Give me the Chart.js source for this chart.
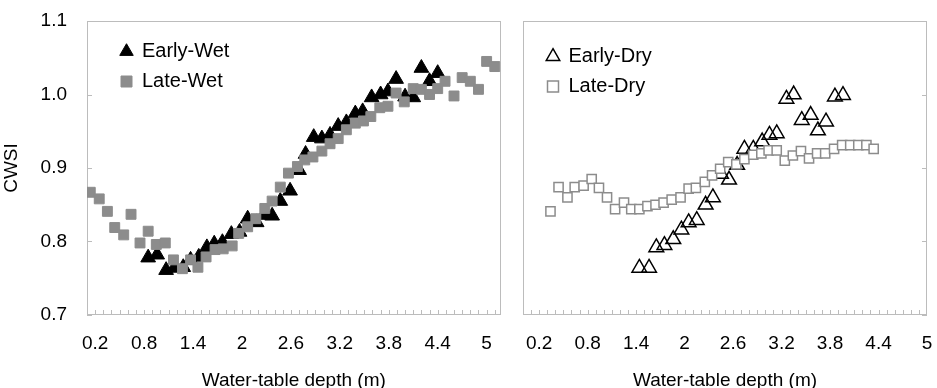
<!DOCTYPE html>
<html>
<head>
<meta charset="utf-8">
<script src="https://cdn.jsdelivr.net/npm/chart.js@4"></script>
<style>
  body { margin: 0; background: #fff; }
  #wrap { position: relative; width: 937px; height: 388px; overflow: hidden; }
  #wet { position: absolute; left: 0; top: 0; }
  #dry { position: absolute; left: 510px; top: 0; }
</style>
</head>
<body>
<div id="wrap">
  <canvas id="wet" width="510" height="388"></canvas>
  <canvas id="dry" width="427" height="388"></canvas>
</div>
<script>
// tick labels (both panels)
var xTicks = [0.2, 0.8, 1.4, 2, 2.6, 3.2, 3.8, 4.4, 5];
var yTicks = [0.7, 0.8, 0.9, 1.0, 1.1];

// wet season
var earlyWetX = [0.85, 0.96, 1.07, 1.17, 1.28, 1.37, 1.47, 1.57, 1.66, 1.76, 1.87, 1.97, 2.07, 2.18, 2.27, 2.37, 2.47, 2.59,
  2.70, 2.78, 2.88, 2.98, 3.08, 3.18, 3.28, 3.39, 3.48, 3.59, 3.70, 3.79, 3.89, 4.00, 4.10, 4.20, 4.30, 4.40];
var earlyWetY = [0.778, 0.782, 0.761, 0.764, 0.765, 0.775, 0.779, 0.792, 0.797, 0.799, 0.810, 0.813, 0.831, 0.826, 0.836, 0.835, 0.855, 0.869,
  0.897, 0.919, 0.942, 0.940, 0.945, 0.957, 0.962, 0.974, 0.977, 0.996, 1.000, 1.004, 1.021, 0.997, 0.996, 1.036, 1.018, 1.029];

var lateWetX = [0.14, 0.25, 0.35, 0.44, 0.55, 0.64, 0.75, 0.85, 0.95, 1.06, 1.16, 1.27, 1.37, 1.46, 1.56, 1.67, 1.77, 1.88, 1.96, 2.07,
  2.17, 2.28, 2.37, 2.47, 2.57, 2.68, 2.77, 2.87, 2.98, 3.08, 3.18, 3.28, 3.39, 3.49, 3.58, 3.69, 3.79, 3.89, 3.99, 4.10,
  4.20, 4.30, 4.40, 4.49, 4.60, 4.70, 4.80, 4.90, 5.00, 5.10];
var lateWetY = [0.867, 0.858, 0.841, 0.819, 0.809, 0.837, 0.798, 0.814, 0.796, 0.798, 0.775, 0.763, 0.775, 0.765, 0.779, 0.789, 0.790, 0.794, 0.811, 0.820,
  0.831, 0.845, 0.855, 0.874, 0.893, 0.902, 0.911, 0.915, 0.923, 0.933, 0.940, 0.952, 0.961, 0.964, 0.970, 0.982, 0.984, 1.002, 0.990, 1.008,
  1.007, 1.000, 1.008, 1.018, 0.998, 1.023, 1.018, 1.007, 1.045, 1.038];

// dry season
var earlyDryX = [1.44, 1.56, 1.65, 1.75, 1.86, 1.96, 2.05, 2.15, 2.26, 2.35, 2.45, 2.55, 2.65, 2.74, 2.85, 2.96, 3.05, 3.14, 3.26, 3.35,
  3.45, 3.56, 3.65, 3.75, 3.86, 3.96];
var earlyDryY = [0.764, 0.764, 0.792, 0.795, 0.803, 0.816, 0.826, 0.829, 0.850, 0.860, 0.892, 0.884, 0.904, 0.926, 0.926, 0.936, 0.945, 0.947, 0.994, 1.000,
  0.965, 0.972, 0.951, 0.963, 0.997, 0.999];

var lateDryX = [0.34, 0.44, 0.55, 0.64, 0.75, 0.85, 0.94, 1.04, 1.14, 1.25, 1.34, 1.44, 1.54, 1.64, 1.74, 1.84, 1.95, 2.05, 2.14, 2.25,
  2.34, 2.44, 2.54, 2.64, 2.74, 2.85, 2.95, 3.04, 3.14, 3.24, 3.34, 3.44, 3.54, 3.64, 3.74, 3.85, 3.95, 4.05, 4.15, 4.25, 4.34];
var lateDryY = [0.841, 0.874, 0.860, 0.874, 0.876, 0.885, 0.873, 0.860, 0.844, 0.853, 0.844, 0.844, 0.848, 0.850, 0.853, 0.857, 0.860, 0.872, 0.873, 0.881,
  0.890, 0.899, 0.908, 0.905, 0.912, 0.918, 0.920, 0.924, 0.924, 0.910, 0.917, 0.923, 0.913, 0.920, 0.920, 0.926, 0.931, 0.931, 0.931, 0.931, 0.926];

Chart.defaults.font.family = '"Liberation Sans", Arial, sans-serif';
Chart.defaults.font.size = 19;
Chart.defaults.color = '#000';

function pts(xs, ys) {
  return xs.map(function (x, i) { return {x: x, y: ys[i]}; });
}

function tenths(from, to) {
  var out = [];
  for (var i = from; i <= to; i++) out.push(i / 10);
  return out;
}

// grey frame + small inside tick marks like the Excel original
var frame = {
  id: 'frame',
  beforeDatasetsDraw: function (chart, args, opts) {
    var a = chart.chartArea, ctx = chart.ctx;
    var sx = chart.scales.x, sy = chart.scales.y;
    ctx.save();
    ctx.lineWidth = 1;
    ctx.strokeStyle = '#bcbcbc';
    ctx.strokeRect(Math.round(a.left) + 0.5, Math.round(a.top) + 0.5,
      Math.round(a.right - a.left) - 1, Math.round(a.bottom - a.top) - 1);
    ctx.beginPath();
    opts.minor.forEach(function (v) {
      var px = Math.round(sx.getPixelForValue(v)) + 0.5;
      ctx.moveTo(px, a.bottom);
      ctx.lineTo(px, a.bottom - 5);
    });
    yTicks.forEach(function (v) {
      var py = Math.round(sy.getPixelForValue(v)) + 0.5;
      if (opts.side === 'left') { ctx.moveTo(a.left, py); ctx.lineTo(a.left + 5, py); }
      else { ctx.moveTo(a.right, py); ctx.lineTo(a.right - 5, py); }
    });
    ctx.stroke();
    ctx.restore();
  }
};

// move the legend into the top-left corner of the plot
var legendInside = {
  id: 'legendInside',
  afterLayout: function (chart, args, opts) {
    var lg = chart.legend, a = chart.chartArea;
    lg.left = a.left + opts.dx;
    lg.top = a.top + opts.dy;
    lg.right = a.right;
    lg.bottom = a.bottom;
  }
};

function xScale(min, max) {
  return {
    type: 'linear', min: min, max: max,
    afterBuildTicks: function (s) { s.ticks = xTicks.map(function (v) { return {value: v}; }); },
    afterFit: function (s) { s.height = 73; s.paddingLeft = 0; s.paddingRight = 0; },
    grid: {display: false, drawTicks: false},
    border: {display: false},
    ticks: {autoSkip: false, maxRotation: 0, padding: 17, callback: function (v) { return String(v); }},
    title: {display: true, text: 'Water-table depth (m)', padding: {top: 0, bottom: -4}}
  };
}

function legendOpts() {
  return {
    position: 'chartArea', align: 'start',
    labels: {
      usePointStyle: true, boxWidth: 11, boxHeight: 11, padding: 10, color: '#000', font: {size: 20},
      sort: function (a, b) { return a.datasetIndex - b.datasetIndex; }
    }
  };
}

new Chart(document.getElementById('wet'), {
  type: 'scatter',
  data: {
    datasets: [
      {label: 'Early-Wet', data: pts(earlyWetX, earlyWetY), pointStyle: 'triangle', pointRadius: 8.5, pointHoverRadius: 8.5,
        backgroundColor: '#000', borderColor: '#000', borderWidth: 1, order: 1},
      {label: 'Late-Wet', data: pts(lateWetX, lateWetY), pointStyle: 'rect', pointRadius: 7, pointHoverRadius: 7,
        backgroundColor: '#8c8c8c', borderColor: '#8c8c8c', borderWidth: 1, order: 0}
    ]
  },
  options: {
    responsive: false, animation: false, events: [],
    layout: {padding: {left: 0, right: 7, top: 21, bottom: 0}},
    scales: {
      x: xScale(0.1, 5.17),
      y: {
        type: 'linear', min: 0.7, max: 1.1,
        afterBuildTicks: function (s) { s.ticks = yTicks.map(function (v) { return {value: v}; }); },
        afterFit: function (s) { s.width = 87; s.paddingTop = 0; s.paddingBottom = 0; },
        grid: {display: false, drawTicks: false},
        border: {display: false},
        ticks: {padding: 20, callback: function (v) { return v.toFixed(1); }},
        title: {display: true, text: 'CWSI', padding: 0}
      }
    },
    plugins: {
      legend: legendOpts(),
      tooltip: {enabled: false},
      frame: {side: 'left', minor: tenths(2, 51)},
      legendInside: {dx: 24, dy: 10.5}
    }
  },
  plugins: [frame, legendInside]
});

new Chart(document.getElementById('dry'), {
  type: 'scatter',
  data: {
    datasets: [
      {label: 'Early-Dry', data: pts(earlyDryX, earlyDryY), pointStyle: 'triangle', pointRadius: 8.5, pointHoverRadius: 8.5,
        backgroundColor: 'rgba(255,255,255,0)', borderColor: '#000', borderWidth: 1.5, order: 1},
      {label: 'Late-Dry', data: pts(lateDryX, lateDryY), pointStyle: 'rect', pointRadius: 6.5, pointHoverRadius: 6.5,
        backgroundColor: '#fff', borderColor: '#8c8c8c', borderWidth: 1.5, order: 0}
    ]
  },
  options: {
    responsive: false, animation: false, events: [],
    layout: {padding: {left: 13, right: 5, top: 21, bottom: 0}},
    scales: {
      x: xScale(0, 5),
      y: {type: 'linear', min: 0.7, max: 1.1, display: false}
    },
    plugins: {
      legend: legendOpts(),
      tooltip: {enabled: false},
      frame: {side: 'right', minor: tenths(1, 49)},
      legendInside: {dx: 14.5, dy: 15.5}
    }
  },
  plugins: [frame, legendInside]
});
</script>
</body>
</html>
